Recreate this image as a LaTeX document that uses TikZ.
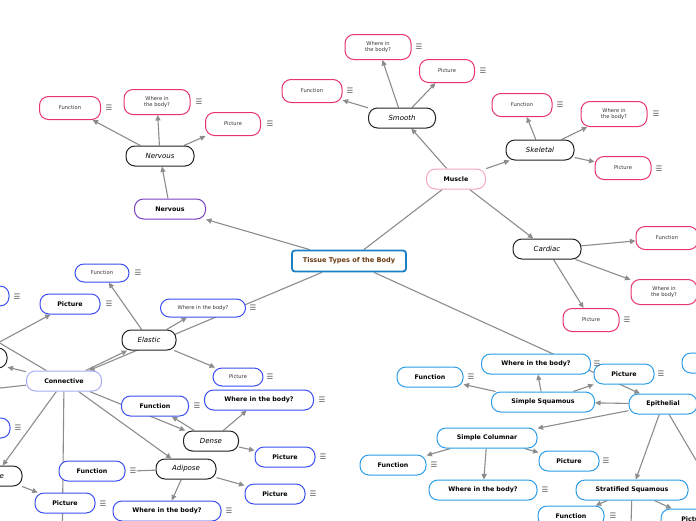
\documentclass[tikz,border=0pt]{standalone}
\usepackage{fontspec}
\setmainfont{DejaVu Sans}
\usetikzlibrary{arrows.meta, backgrounds}
\definecolor{lnc}{HTML}{8C8C8C}
\definecolor{rootb}{HTML}{1A80C4}
\definecolor{roott}{HTML}{6B3B0E}
\definecolor{muscl}{HTML}{F4A6C4}
\definecolor{pinkb}{HTML}{E8336E}
\definecolor{nervb}{HTML}{7A3FC0}
\definecolor{connl}{HTML}{A6ADF5}
\definecolor{connb}{HTML}{3A4EF2}
\definecolor{epib}{HTML}{2C9CE8}
\definecolor{subb}{HTML}{222222}
\definecolor{mnuc}{HTML}{555555}
\tikzset{
  base/.style={fill=white, inner sep=0pt, line width=1pt, rounded corners=9pt, align=center},
  root/.style={base, draw=rootb, line width=1.8pt, rounded corners=3pt, text=roott,
    minimum width=114, minimum height=21, font=\fontsize{6.6}{8}\selectfont\bfseries},
  topic/.style={base, minimum height=20, font=\fontsize{6.3}{7.5}\selectfont\bfseries},
  sub/.style={base, draw=subb, minimum height=20, font=\fontsize{7}{8}\selectfont\itshape},
  pk/.style={base, draw=pinkb, minimum height=23, text=black!80, font=\fontsize{5.2}{6.6}\selectfont},
  pkw/.style={pk, minimum height=25, minimum width=66},
  bs/.style={base, draw=connb, minimum height=18, text=black!80, font=\fontsize{5.2}{6.6}\selectfont},
  bb/.style={topic, draw=connb},
  eb/.style={topic, draw=epib},
  mnu/.style={inner sep=0pt, text=mnuc, font=\fontsize{7.5}{8}\selectfont},
  ln/.style={draw=lnc, line width=1.1pt},
  ar/.style={ln, -{Triangle[length=5.5pt,width=5pt]}}
}

\begin{document}
\begin{tikzpicture}[x=1pt, y=-1pt]
  \useasboundingbox (0,0) rectangle (696,520);
  % main topics
  \node[root] (ttb) at (349,261) {Tissue Types of the Body};
  \node[topic, draw=muscl, minimum width=59] (mus) at (456,179) {Muscle};
  \node[topic, draw=nervb, minimum width=71] (ner) at (170,209) {Nervous};
  \node[topic, draw=connl, minimum width=75] (con) at (64,381) {Connective};
  \node[topic, draw=epib, minimum width=68] (epi) at (663,404) {Epithelial};
  % subtopics
  \node[sub, minimum width=67] (smo) at (402,118) {Smooth};
  \node[sub, minimum width=68] (ske) at (540,150) {Skeletal};
  \node[sub, minimum width=68] (car) at (547,249) {Cardiac};
  \node[sub, minimum width=68] (nrv) at (160,156) {Nervous};
  \node[sub, minimum width=54] (ela) at (149,340) {Elastic};
  \node[sub, minimum width=55] (den) at (211,441) {Dense};
  \node[sub, minimum width=60] (adi) at (186,469) {Adipose};
  \node[sub, minimum width=74] (lft) at (-30,358) {};
  \node[sub, minimum width=54] (bon) at (-5,476) {Bone};
  \node[eb, minimum width=103] (ssq) at (543,402) {Simple Squamous};
  \node[eb, minimum width=100] (sco) at (487,438) {Simple Columnar};
  \node[eb, minimum width=112] (stq) at (632,490) {Stratified Squamous};
  % muscle + nervous leaves
  \node[pk, minimum width=60] (fnSm) at (312,91) {Function};
  \node[pkw] (whSm) at (378,47) {Where in\\the body?};
  \node[pk, minimum width=55] (piSm) at (447,71) {Picture};
  \node[pk, minimum width=60] (fnSk) at (522,105) {Function};
  \node[pkw] (whSk) at (614,114) {Where in\\the body?};
  \node[pk, minimum width=56] (piSk) at (623,168) {Picture};
  \node[pk, minimum width=62] (fnCa) at (667,238) {Function};
  \node[pkw] (whCa) at (664,292) {Where in\\the body?};
  \node[pk, minimum width=56] (piCa) at (591,320) {Picture};
  \node[pk, minimum width=61] (fnNv) at (70,108) {Function};
  \node[pkw] (whNv) at (157,102) {Where in\\the body?};
  \node[pk, minimum width=55] (piNv) at (233,124) {Picture};
  % connective leaves
  \node[bs, minimum width=54] (fnEl) at (102,273) {Function};
  \node[bs, minimum width=85] (whEl) at (203,308) {Where in the body?};
  \node[bs, minimum width=50] (piEl) at (238,377) {Picture};
  \node[bb, minimum width=60] (piLf) at (70,304) {Picture};
  \node[bb, minimum width=68] (ltA) at (-25,296) {};
  \node[bb, minimum width=68] (ltB) at (-24,428) {};
  \node[bb, minimum width=67] (fnDe) at (155,406) {Function};
  \node[bb, minimum width=109] (whDe) at (259,400) {Where in the body?};
  \node[bb, minimum width=60] (piDe) at (285,457) {Picture};
  \node[bb, minimum width=66] (fnAd) at (92,471) {Function};
  \node[bb, minimum width=108] (whAd) at (167,511) {Where in the body?};
  \node[bb, minimum width=60] (piAd) at (275,494) {Picture};
  \node[bb, minimum width=60] (piBo) at (65,503) {Picture};
  % epithelial leaves
  \node[eb, minimum width=66] (fnSs) at (430,377) {Function};
  \node[eb, minimum width=109] (whSs) at (536,364) {Where in the body?};
  \node[eb, minimum width=60] (piSs) at (624,374) {Picture};
  \node[eb, minimum width=66] (fnSc) at (393,465) {Function};
  \node[eb, minimum width=108] (whSc) at (483,490) {Where in the body?};
  \node[eb, minimum width=60] (piSc) at (569,461) {Picture};
  \node[eb, minimum width=66] (fnSt) at (571,516) {Function};
  \node[eb, minimum width=66] (piSt) at (694,519) {Picture};
  \node[eb, minimum width=66] (trB) at (715,363) {};
  % menu marks
  \foreach \mx/\my [count=\i] in {350/91, 419/47, 483/71, 560/105, 656/114, 659/169, 627/320,
      109/108, 199/102, 270/124, 138/273, 253/308, 270/377, 17/297, 109/304, 18/428,
      197/406, 322/400, 323/457, 229/511, 313/494, 103/504,
      471/377, 597/364, 661/374, 434/465, 545/490, 606/461, 613/516}
    \node[mnu] (m\i) at (\mx,\my) {☰};
  \node[mnu] (mnAd) at (133,471) {☰};
  % loose ends
  \coordinate (cnOffA) at (-100,284);
  \coordinate (cnOffB) at (-100,399);
  \coordinate (cnOffC) at (62,560);
  \coordinate (epOff) at (720,501);
  \coordinate (stOff) at (630,560);
  \begin{scope}[on background layer]
    \foreach \a/\b in {ttb/ner, ttb/con, ttb/epi, mus/smo, mus/ske, mus/car,
        smo/fnSm, smo/whSm, smo/piSm, ske/fnSk, ske/whSk, ske/piSk,
        car/fnCa, car/whCa, car/piCa, ner/nrv, nrv/fnNv, nrv/whNv, nrv/piNv,
        con/ela, con/den, con/adi, con/lft, con/bon,
        ela/fnEl, ela/whEl, ela/piEl, lft/piLf,
        den/fnDe, den/whDe, den/piDe, adi/whAd, adi/piAd, bon/piBo,
        epi/ssq, epi/sco, epi/stq, ssq/fnSs, ssq/whSs, ssq/piSs,
        sco/fnSc, sco/whSc, sco/piSc, stq/fnSt, stq/piSt}
      \draw[ar] (\a) -- (\b);
    \foreach \a/\b in {ttb/mus, con/cnOffA, con/cnOffB, con/cnOffC, adi/mnAd, epi/epOff, stq/stOff}
      \draw[ln] (\a) -- (\b);
  \end{scope}
\end{tikzpicture}
\end{document}
